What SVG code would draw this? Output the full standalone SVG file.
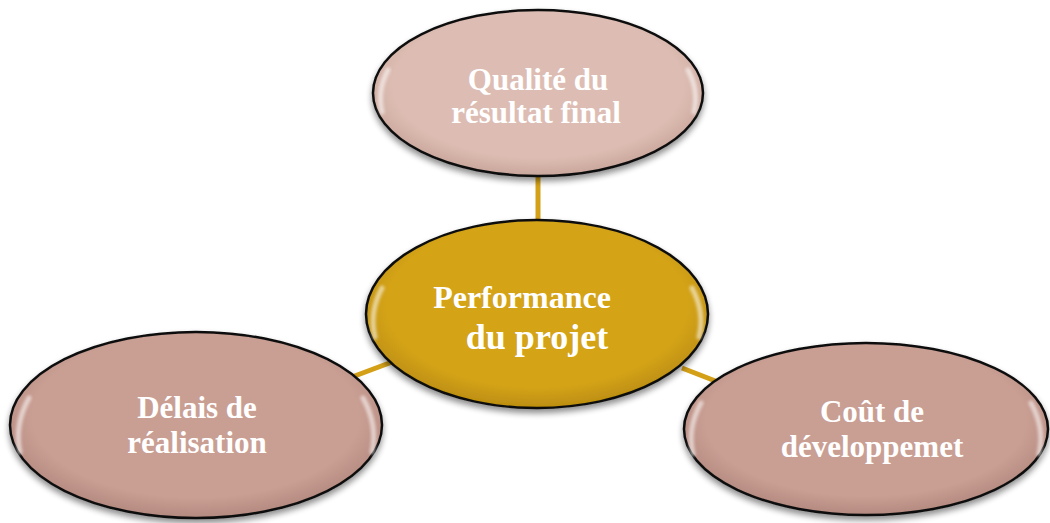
<svg xmlns="http://www.w3.org/2000/svg" width="1050" height="523" viewBox="0 0 1050 523">
<style>
.node{stroke:#111;stroke-width:2.5;filter:url(#sh)}
.lbl{font-family:"Liberation Serif","Times New Roman",serif;font-weight:bold;fill:#fff;text-anchor:middle}
.hl{fill:none;stroke:#fff;stroke-opacity:0.55;stroke-width:5;stroke-linecap:round;filter:url(#bl)}
.conn{stroke:#D4A017;stroke-width:5;fill:none}
</style>
<defs>
<filter id="sh" x="-10%" y="-10%" width="120%" height="125%">
<feGaussianBlur in="SourceAlpha" stdDeviation="3"/>
<feOffset dx="0" dy="4" result="b"/>
<feComponentTransfer><feFuncA type="linear" slope="0.45"/></feComponentTransfer>
<feMerge><feMergeNode/><feMergeNode in="SourceGraphic"/></feMerge>
</filter>
<filter id="bl" x="-50%" y="-20%" width="200%" height="140%">
<feGaussianBlur stdDeviation="1.5"/>
</filter>
<radialGradient id="gTop" cx="50%" cy="45%" r="55%">
<stop offset="0.8" stop-color="#DDBDB3"/><stop offset="1" stop-color="#C9A69B"/>
</radialGradient>
<radialGradient id="gRose" cx="50%" cy="45%" r="55%">
<stop offset="0.8" stop-color="#C99E93"/><stop offset="1" stop-color="#B48A80"/>
</radialGradient>
<radialGradient id="gGold" cx="50%" cy="45%" r="55%">
<stop offset="0.8" stop-color="#D4A318"/><stop offset="1" stop-color="#BC8E10"/>
</radialGradient>
</defs>
<g id="connectors">
<line class="conn" x1="538" y1="176" x2="538" y2="222"/>
<line class="conn" x1="352" y1="377" x2="392" y2="362"/>
<line class="conn" x1="682" y1="368" x2="718" y2="382"/>
</g>
<g id="node-qualite">
<ellipse class="node" cx="538" cy="93" rx="165" ry="83" fill="url(#gTop)"/>
<path class="hl" d="M382 112 Q377 90 388 70"/>
<path class="hl" d="M694 112 Q699 90 688 70"/>
<text class="lbl" font-size="31" x="538" y="90">Qualité du</text>
<text class="lbl" font-size="31" x="536" y="123">résultat final</text>
</g>
<g id="node-performance">
<ellipse class="node" cx="537" cy="314" rx="171" ry="94" fill="url(#gGold)"/>
<path class="hl" d="M375 337 Q369 312 382 288"/>
<path class="hl" d="M699 337 Q705 312 692 288"/>
<text class="lbl" font-size="32" x="522" y="308">Performance</text>
<text class="lbl" font-size="36" x="537" y="349">du projet</text>
</g>
<g id="node-delais">
<ellipse class="node" cx="196" cy="425" rx="186" ry="93" fill="url(#gRose)"/>
<path class="hl" d="M20 452 Q14 425 29 398"/>
<path class="hl" d="M372 452 Q378 425 363 398"/>
<text class="lbl" font-size="31" x="197" y="418">Délais de</text>
<text class="lbl" font-size="31" x="197" y="453">réalisation</text>
</g>
<g id="node-cout">
<ellipse class="node" cx="866" cy="429" rx="182" ry="86" fill="url(#gRose)"/>
<path class="hl" d="M693 454 Q687 428 701 403"/>
<path class="hl" d="M1039 454 Q1045 428 1031 403"/>
<text class="lbl" font-size="31" x="872" y="422">Coût de</text>
<text class="lbl" font-size="31" x="872" y="457">développemet</text>
</g>
</svg>
